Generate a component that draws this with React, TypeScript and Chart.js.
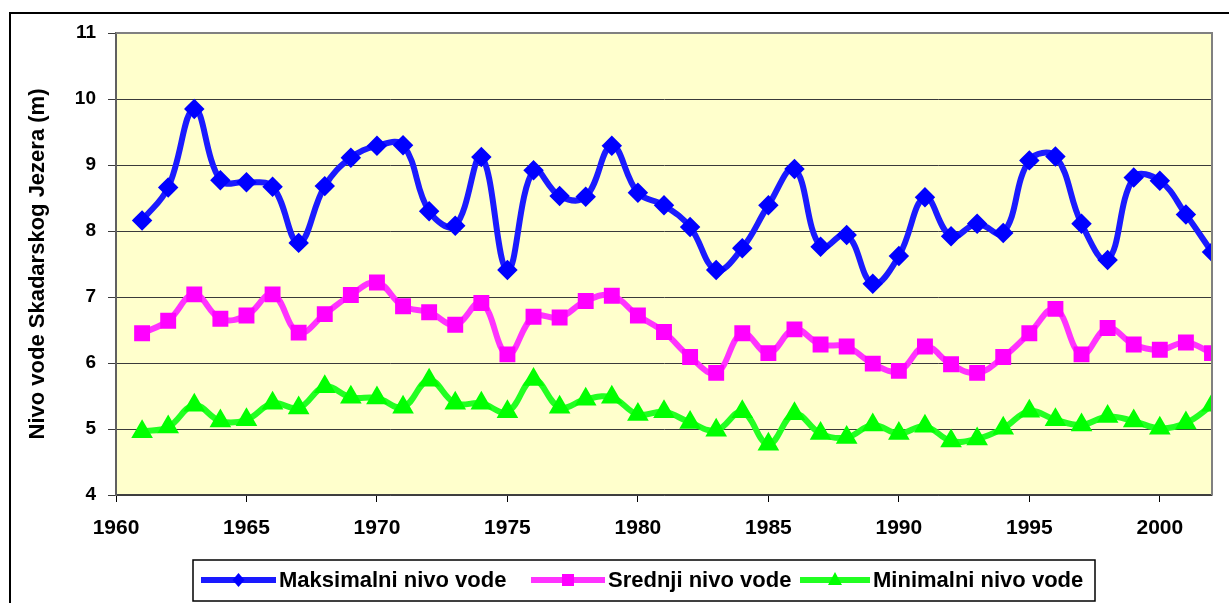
import React, { useEffect, useRef } from "react";
import { Chart, registerables } from "chart.js";

Chart.register(...registerables);

const years = [
  1961, 1962, 1963, 1964, 1965, 1966, 1967, 1968, 1969, 1970,
  1971, 1972, 1973, 1974, 1975, 1976, 1977, 1978, 1979, 1980,
  1981, 1982, 1983, 1984, 1985, 1986, 1987, 1988, 1989, 1990,
  1991, 1992, 1993, 1994, 1995, 1996, 1997, 1998, 1999, 2000,
  2001, 2002,
];

const maksimalni = [
  8.16, 8.66, 9.85, 8.77, 8.74, 8.67, 7.82, 8.68, 9.11, 9.29,
  9.3, 8.3, 8.08, 9.12, 7.41, 8.92, 8.53, 8.52, 9.29, 8.58,
  8.39, 8.06, 7.41, 7.74, 8.39, 8.94, 7.76, 7.94, 7.2, 7.62,
  8.51, 7.92, 8.11, 7.97, 9.07, 9.13, 8.11, 7.56, 8.81, 8.76,
  8.25, 7.68,
];

const srednji = [
  6.45, 6.64, 7.04, 6.67, 6.72, 7.04, 6.46, 6.74, 7.03, 7.22,
  6.86, 6.77, 6.58, 6.91, 6.13, 6.7, 6.69, 6.94, 7.02, 6.72,
  6.47, 6.09, 5.85, 6.45, 6.15, 6.51, 6.28, 6.25, 5.99, 5.88,
  6.25, 5.98, 5.85, 6.09, 6.45, 6.82, 6.13, 6.53, 6.28, 6.2,
  6.31, 6.15,
];

const minimalni = [
  4.96, 5.03, 5.36, 5.12, 5.14, 5.39, 5.32, 5.64, 5.48, 5.47,
  5.33, 5.74, 5.39, 5.39, 5.26, 5.75, 5.33, 5.45, 5.48, 5.22,
  5.26, 5.1, 4.98, 5.26, 4.77, 5.23, 4.93, 4.87, 5.06, 4.93,
  5.04, 4.82, 4.85, 5.01, 5.27, 5.14, 5.06, 5.19, 5.12, 5.01,
  5.09, 5.36,
];

const seriesNames = ["Maksimalni nivo vode", "Srednji nivo vode", "Minimalni nivo vode"];
const xTicks = [1960, 1965, 1970, 1975, 1980, 1985, 1990, 1995, 2000];
const yTicks = [4, 5, 6, 7, 8, 9, 10, 11];
const yTitle = "Nivo vode Skadarskog Jezera (m)";

const FONT = "'Liberation Sans', Arial, sans-serif";

const bgPlugin = {
  id: "bgPlugin",
  beforeDraw(chart: any) {
    const { ctx, chartArea } = chart;
    ctx.save();
    ctx.fillStyle = "#ffffff";
    ctx.fillRect(0, 0, chart.width, chart.height);
    ctx.strokeStyle = "#000000";
    ctx.lineWidth = 2;
    ctx.beginPath();
    ctx.moveTo(10, chart.height + 5);
    ctx.lineTo(10, 13);
    ctx.lineTo(chart.width + 5, 13);
    ctx.stroke();
    ctx.fillStyle = "#FFFFCC";
    ctx.fillRect(chartArea.left, chartArea.top, chartArea.right - chartArea.left, chartArea.bottom - chartArea.top);
    ctx.restore();
  },
  afterDatasetsDraw(chart: any) {
    const { ctx, chartArea } = chart;
    ctx.save();
    ctx.strokeStyle = "#808080";
    ctx.lineWidth = 2;
    ctx.beginPath();
    ctx.moveTo(chartArea.left, chartArea.top);
    ctx.lineTo(chartArea.right, chartArea.top);
    ctx.lineTo(chartArea.right, chartArea.bottom);
    ctx.stroke();
    ctx.restore();
  },
  afterDraw(chart: any) {
    const { ctx } = chart;
    ctx.save();
    const boxL = 193, boxT = 560, boxR = 1095, boxB = 601;
    ctx.fillStyle = "#ffffff";
    ctx.fillRect(boxL, boxT, boxR - boxL, boxB - boxT);
    ctx.strokeStyle = "#000000";
    ctx.lineWidth = 1.5;
    ctx.strokeRect(boxL, boxT, boxR - boxL, boxB - boxT);
    ctx.font = `bold 22px ${FONT}`;
    ctx.textBaseline = "middle";
    const lineStarts = [201, 531, 800];
    const textStarts = [279, 608, 873];
    const cy = 580;
    chart.data.datasets.forEach((ds: any, i: number) => {
      const x0 = lineStarts[i];
      const x1 = textStarts[i] - 3;
      ctx.strokeStyle = ds.borderColor;
      ctx.lineWidth = 6;
      ctx.beginPath();
      ctx.moveTo(x0, cy);
      ctx.lineTo(x1, cy);
      ctx.stroke();
      ctx.fillStyle = ds.pointBackgroundColor;
      ctx.beginPath();
      const mx = (x0 + x1) / 2;
      if (ds.pointStyle === "rectRot") {
        ctx.moveTo(mx, cy - 7); ctx.lineTo(mx + 6, cy); ctx.lineTo(mx, cy + 7); ctx.lineTo(mx - 6, cy);
      } else if (ds.pointStyle === "rect") {
        ctx.rect(mx - 6, cy - 6, 12, 12);
      } else {
        ctx.moveTo(mx, cy - 8); ctx.lineTo(mx + 7, cy + 5); ctx.lineTo(mx - 7, cy + 5);
      }
      ctx.closePath();
      ctx.fill();
      ctx.fillStyle = "#000000";
      ctx.textAlign = "left";
      ctx.fillText(ds.label, textStarts[i], cy + 1);
    });
    ctx.restore();
  },
};

export default function App() {
  const ref = useRef<HTMLCanvasElement | null>(null);
  useEffect(() => {
    if (!ref.current) return;
    const mk = (vals: number[]) => years.map((y, i) => ({ x: y, y: vals[i] }));
    const chart = new Chart(ref.current, {
      type: "line",
      data: {
        datasets: [
          {
            label: seriesNames[0],
            data: mk(maksimalni),
            borderColor: "#1a1aff",
            backgroundColor: "#0000ff",
            pointBackgroundColor: "#0000ff",
            pointBorderColor: "#0000ff",
            pointStyle: "rectRot",
            pointRadius: 6,
            borderWidth: 6,
            tension: 0.4,
          },
          {
            label: seriesNames[1],
            data: mk(srednji),
            borderColor: "#ff33ff",
            backgroundColor: "#ff00ff",
            pointBackgroundColor: "#ff00ff",
            pointBorderColor: "#ff00ff",
            pointStyle: "rect",
            pointRadius: 7,
            borderWidth: 6,
            tension: 0.4,
          },
          {
            label: seriesNames[2],
            data: mk(minimalni),
            borderColor: "#22ff22",
            backgroundColor: "#00ff00",
            pointBackgroundColor: "#00ff00",
            pointBorderColor: "#00ff00",
            pointStyle: "triangle",
            pointRadius: 6.5,
            borderWidth: 6,
            tension: 0.4,
          },
        ],
      },
      options: {
        animation: false,
        responsive: false,
        devicePixelRatio: 1,
        layout: { padding: { left: 0, top: 33, right: 17, bottom: 0 } },
        plugins: {
          legend: { display: false },
          tooltip: { enabled: false },
        },
        scales: {
          x: {
            type: "linear",
            min: 1960,
            max: 2002,
            afterBuildTicks: (scale: any) => {
              scale.ticks = xTicks.map((v) => ({ value: v }));
            },
            afterFit: (scale: any) => {
              scale.height = 108;
            },
            grid: {
              drawOnChartArea: false,
              drawTicks: true,
              tickLength: 7,
              color: "#000000",
            },
            border: { color: "#404040", width: 1.5 },
            ticks: {
              color: "#000000",
              padding: 14,
              maxRotation: 0,
              autoSkip: false,
              font: { family: FONT, size: 21, weight: "bold" },
              callback: (v: any) => String(v),
            },
          },
          y: {
            type: "linear",
            min: 4,
            max: 11,
            afterBuildTicks: (scale: any) => {
              scale.ticks = yTicks.map((v) => ({ value: v }));
            },
            afterFit: (scale: any) => {
              scale.width = 116;
            },
            grid: {
              color: "#3a3a3a",
              lineWidth: 1,
              tickLength: 8,
              drawTicks: true,
            },
            border: { color: "#606060", width: 2 },
            ticks: {
              color: "#000000",
              padding: 12,
              font: { family: FONT, size: 19, weight: "bold" },
              callback: (v: any) => String(v),
            },
            title: {
              display: true,
              text: yTitle,
              color: "#000000",
              font: { family: FONT, size: 22, weight: "bold" },
              padding: { top: 25, bottom: 0 },
            },
          },
        },
      },
      plugins: [bgPlugin],
    });
    return () => chart.destroy();
  }, []);
  return (
    <div style={{ position: "absolute", left: 0, top: 0, width: 1229, height: 603 }}>
      <canvas ref={ref} width={1229} height={603} />
    </div>
  );
}
